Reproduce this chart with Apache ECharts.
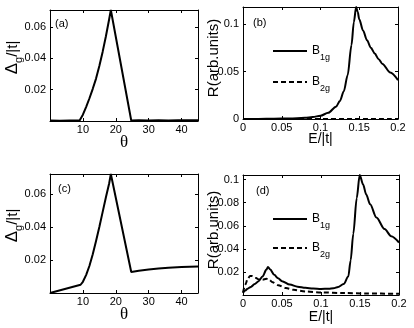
<!DOCTYPE html>
<html>
<head>
<meta charset="utf-8">
<script src="https://cdn.jsdelivr.net/npm/echarts@6/dist/echarts.min.js"></script>
<style>
html,body{margin:0;padding:0;background:#fff;}
#chart{width:414px;height:328px;}
</style>
</head>
<body>
<div id="chart"></div>
<script>
// ---------- data ----------
const thetaA = [0, 3, 6, 9, 10, 11, 12, 13, 14, 15, 16, 17, 18, 18.5, 24.7, 27, 30, 33, 36, 39, 42, 45];
const gapA   = [0.0003, 0.0002, 0.0003, 0.0003, 0.004, 0.009, 0.0145, 0.0205, 0.027, 0.035, 0.044, 0.054, 0.065, 0.0707, 0.0003, 0.0004, 0.0003, 0.0005, 0.0003, 0.0005, 0.0004, 0.0005];

const thetaC = [0, 9.3, 10, 11, 12, 13, 14, 15, 16, 17, 18, 18.5, 24.7, 27, 30, 33, 36, 40, 45];
const gapC   = [0, 0.005, 0.0068, 0.011, 0.0165, 0.0235, 0.0315, 0.040, 0.049, 0.058, 0.0665, 0.0721, 0.0127, 0.0135, 0.0142, 0.0148, 0.0153, 0.0158, 0.0161];

const energyB = [0, 0.02, 0.04, 0.06, 0.08, 0.09, 0.1, 0.11, 0.12, 0.125, 0.13, 0.135, 0.14, 0.143, 0.146, 0.148, 0.15, 0.155, 0.16, 0.165, 0.17, 0.175, 0.18, 0.19, 0.2];
const b1gB    = [0, 0.0001, 0.0003, 0.0006, 0.0012, 0.002, 0.0035, 0.0065, 0.013, 0.019, 0.029, 0.046, 0.078, 0.102, 0.118, 0.113, 0.105, 0.093, 0.083, 0.075, 0.069, 0.063, 0.058, 0.049, 0.041];
const b2gB    = [0, 0.0001, 0.0001, 0.0001, 0.0001, 0.0001, 0.0001, 0.0001, 0.0001, 0.0001, 0.0001, 0.0001, 0.0001, 0.0001, 0.0001, 0.0001, 0.0001, 0.0001, 0.0001, 0.0001, 0.0001, 0.0001, 0.0001, 0.0001, 0.0001];

const energyD = [0, 0.003, 0.006, 0.01, 0.015, 0.02, 0.025, 0.03, 0.032, 0.035, 0.04, 0.045, 0.05, 0.06, 0.07, 0.08, 0.09, 0.1, 0.11, 0.116, 0.122, 0.129, 0.135, 0.138, 0.1414, 0.1458, 0.1496, 0.154, 0.158, 0.163, 0.171, 0.1815, 0.19, 0.2];
const b1gD    = [0.002, 0.004, 0.0055, 0.007, 0.0095, 0.012, 0.016, 0.022, 0.0243, 0.022, 0.0175, 0.0145, 0.012, 0.009, 0.0072, 0.0062, 0.0056, 0.0053, 0.0054, 0.0058, 0.007, 0.0095, 0.016, 0.03, 0.053, 0.084, 0.104, 0.0957, 0.087, 0.0786, 0.0672, 0.0571, 0.051, 0.0455];
const energyD2 = [0, 0.003, 0.006, 0.009, 0.012, 0.016, 0.02, 0.025, 0.03, 0.033, 0.038, 0.045, 0.055, 0.065, 0.08, 0.1, 0.13, 0.16, 0.2];
const b2gD     = [0.002, 0.009, 0.014, 0.0165, 0.0165, 0.015, 0.0135, 0.0133, 0.014, 0.0135, 0.011, 0.0085, 0.006, 0.0045, 0.003, 0.0022, 0.0017, 0.0013, 0.001];

const panelLabels = ['(a)', '(b)', '(c)', '(d)'];
const legendNames = ['B1g', 'B2g'];

// ---------- styling / layout ----------
const FONT = 'Liberation Sans';
const grids = [
  {left: 49, top: 10,  width: 149, height: 111},
  {left: 243, top: 7,  width: 155, height: 112},
  {left: 49, top: 174, width: 149, height: 119},
  {left: 243, top: 175, width: 156, height: 120}
];
const xRanges = [[0,45,10],[0,0.2,0.05],[0,45,10],[0,0.2,0.05]];
const yRanges = [[0,0.0707,0.02],[0,0.118,0.05],[0,0.0721,0.02],[0,0.104,0.02]];
const xNameGaps = [13, 13, 13, 15];
const yNameGaps = [26, 19, 26, 19];

const axisLineStyle = {color: '#000', width: 1};
const tickLabel = {color: '#000', fontSize: 11, fontFamily: FONT};

const xAxes = [], yAxes = [];
const xNames = ['θ', 'E/|t|', 'θ', 'E/|t|'];
const yNames = ['{d|Δ}{s|g}/|t|', 'R(arb.units)', '{d|Δ}{s|g}/|t|', 'R(arb.units)'];
for (let i = 0; i < 4; i++) {
  const isTheta = (i % 2 === 0);
  xAxes.push({
    type: 'value', gridIndex: i, position: 'bottom',
    min: xRanges[i][0], max: xRanges[i][1], interval: xRanges[i][2],
    name: xNames[i], nameLocation: 'middle', nameGap: xNameGaps[i], nameMoveOverlap: false,
    nameTextStyle: isTheta ? {fontSize: 17, fontFamily: 'Liberation Serif', color: '#000'}
                           : {fontSize: 14, fontFamily: FONT, color: '#000'},
    axisLine: {show: true, onZero: false, lineStyle: axisLineStyle},
    axisTick: {show: true, inside: true, length: 3, lineStyle: axisLineStyle},
    axisLabel: Object.assign({margin: 3, showMinLabel: !isTheta, showMaxLabel: !isTheta}, tickLabel),
    splitLine: {show: false}
  });
  yAxes.push({
    type: 'value', gridIndex: i, position: 'left',
    min: yRanges[i][0], max: yRanges[i][1], interval: yRanges[i][2],
    name: yNames[i], nameLocation: 'middle', nameRotate: 90, nameGap: yNameGaps[i], nameMoveOverlap: false,
    nameTextStyle: {fontSize: isTheta ? 15 : 15, fontFamily: FONT, color: '#000', lineHeight: 20,
      padding: isTheta ? [0, 0, 0, 16] : [0, 0, 0, 10],
      rich: {
        d: {fontSize: 17, fontFamily: FONT, color: '#000', lineHeight: 20},
        s: {fontSize: 11, fontFamily: FONT, color: '#000', lineHeight: 23, verticalAlign: 'bottom'}
      }},
    axisLine: {show: true, onZero: false, lineStyle: axisLineStyle},
    axisTick: {show: true, inside: true, length: 3, lineStyle: axisLineStyle},
    axisLabel: Object.assign({margin: 4, showMinLabel: (i === 1), showMaxLabel: false}, tickLabel),
    splitLine: {show: false}
  });
}
// box: top and right axes with inward ticks
for (let i = 0; i < 4; i++) {
  xAxes.push({
    type: 'value', gridIndex: i, position: 'top',
    min: xRanges[i][0], max: xRanges[i][1], interval: xRanges[i][2],
    axisLine: {show: true, onZero: false, lineStyle: axisLineStyle},
    axisTick: {show: true, inside: true, length: 3, lineStyle: axisLineStyle},
    axisLabel: {show: false}, splitLine: {show: false}
  });
  yAxes.push({
    type: 'value', gridIndex: i, position: 'right',
    min: yRanges[i][0], max: yRanges[i][1], interval: yRanges[i][2],
    axisLine: {show: true, onZero: false, lineStyle: axisLineStyle},
    axisTick: {show: true, inside: true, length: 3, lineStyle: axisLineStyle},
    axisLabel: {show: false}, splitLine: {show: false}
  });
}

function pairs(xs, ys) { return xs.map((x, k) => [x, ys[k]]); }
function lineSeries(name, gi, data, dashed, smooth) {
  return {
    type: 'line', name: name, xAxisIndex: gi, yAxisIndex: gi, data: data,
    symbol: 'none', animation: false, clip: true,
    smooth: smooth ? 0.3 : false, smoothMonotone: smooth ? 'x' : undefined,
    lineStyle: {color: '#000', width: 2, type: dashed ? [5, 3] : 'solid'},
    itemStyle: {color: '#000'}
  };
}

const series = [
  lineSeries('gapA', 0, pairs(thetaA, gapA), false, false),
  lineSeries(legendNames[0], 1, pairs(energyB, b1gB), false, true),
  lineSeries(legendNames[1], 1, pairs(energyB, b2gB), true, true),
  lineSeries('gapC', 2, pairs(thetaC, gapC), false, false),
  lineSeries(legendNames[0], 3, pairs(energyD, b1gD), false, true),
  lineSeries(legendNames[1], 3, pairs(energyD2, b2gD), true, true)
];

const legendText = {
  color: '#000', fontSize: 12, fontFamily: FONT, lineHeight: 20,
  rich: {s: {fontSize: 9, fontFamily: FONT, color: '#000', lineHeight: 22, verticalAlign: 'bottom'}}
};
function legendFmt(n) { return n.charAt(0) + '{s|' + n.slice(1) + '}'; }

const titles = [
  {text: panelLabels[0], left: 55, top: 18},
  {text: panelLabels[1], left: 253, top: 17},
  {text: panelLabels[2], left: 58, top: 183},
  {text: panelLabels[3], left: 256, top: 185}
].map(t => Object.assign(t, {padding: 0, textStyle: {fontSize: 11, fontWeight: 'normal', fontFamily: FONT, color: '#000'}}));

const legendBase = {
  data: legendNames, orient: 'vertical', left: 272, padding: 0, itemWidth: 34, itemHeight: 10,
  formatter: legendFmt, textStyle: legendText, selectedMode: false,
  itemStyle: {opacity: 0, borderWidth: 0}
};

const option = {
  backgroundColor: '#fff',
  animation: false,
  title: titles,
  grid: grids,
  xAxis: xAxes,
  yAxis: yAxes,
  legend: [
    Object.assign({}, legendBase, {top: 40, itemGap: 9}),
    Object.assign({}, legendBase, {top: 208, itemGap: 7})
  ],
  series: series
};

const chart = echarts.init(document.getElementById('chart'), null, {renderer: 'canvas'});
chart.setOption(option);
</script>
</body>
</html>
